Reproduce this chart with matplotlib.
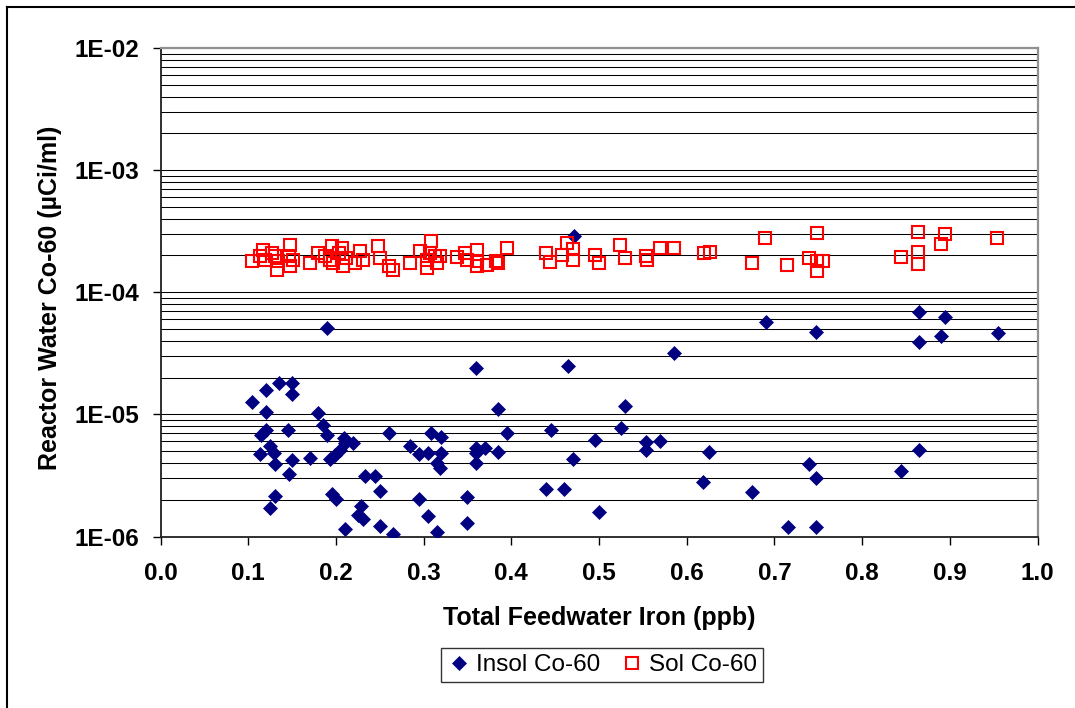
import matplotlib
matplotlib.use("Agg")
import matplotlib.pyplot as plt
from matplotlib.lines import Line2D
from matplotlib.ticker import LogLocator, NullFormatter, FixedLocator

plt.rcParams['font.family'] = ['Liberation Sans', 'DejaVu Sans']

# Insoluble Co-60 (x: total feedwater iron ppb, y: uCi/ml)
insol_x = [0.1895, 0.360, 0.385, 0.1047, 0.120, 0.135, 0.150, 0.150, 0.120, 0.180,
           0.115, 0.120, 0.145, 0.185, 0.1895, 0.114, 0.125, 0.129, 0.130, 0.150,
           0.146, 0.170, 0.2096, 0.220, 0.193, 0.199, 0.205, 0.210, 0.261, 0.284,
           0.295, 0.305, 0.309, 0.320, 0.320, 0.315, 0.319, 0.360, 0.360, 0.360,
           0.370, 0.385, 0.395, 0.130, 0.125, 0.195, 0.200, 0.210, 0.233, 0.245,
           0.250, 0.229, 0.2255, 0.2305, 0.250, 0.265, 0.295, 0.305, 0.315, 0.350,
           0.350, 0.465, 0.585, 0.690, 0.748, 0.530, 0.445, 0.525, 0.4955, 0.554,
           0.554, 0.570, 0.625, 0.470, 0.7395, 0.748, 0.440, 0.460, 0.619, 0.675,
           0.500, 0.715, 0.748, 0.865, 0.865, 0.8945, 0.890, 0.9546, 0.865, 0.844,
           0.472]
insol_y = [5.09e-5, 2.39e-5, 1.10e-5, 1.27e-5, 1.59e-5, 1.82e-5, 1.80e-5, 1.47e-5, 1.04e-5, 1.02e-5,
           6.8e-6, 7.5e-6, 7.46e-6, 8.2e-6, 6.8e-6, 4.72e-6, 5.52e-6, 4.8e-6, 3.91e-6, 4.24e-6,
           3.23e-6, 4.38e-6, 6.38e-6, 5.88e-6, 4.3e-6, 4.66e-6, 5.12e-6, 5.8e-6, 7.0e-6, 5.52e-6,
           4.72e-6, 4.8e-6, 7.0e-6, 6.58e-6, 4.8e-6, 3.98e-6, 3.66e-6, 5.28e-6, 4.8e-6, 4.03e-6,
           5.28e-6, 4.9e-6, 7.0e-6, 2.15e-6, 1.70e-6, 2.23e-6, 2.03e-6, 1.15e-6, 3.13e-6, 3.1e-6,
           2.36e-6, 1.78e-6, 1.5e-6, 1.38e-6, 1.22e-6, 1.05e-6, 2.03e-6, 1.48e-6, 1.08e-6, 2.12e-6,
           1.3e-6, 2.5e-5, 3.17e-5, 5.7e-5, 4.69e-5, 1.17e-5, 7.46e-6, 7.7e-6, 6.18e-6, 5.92e-6,
           5.12e-6, 6.0e-6, 4.95e-6, 4.32e-6, 3.93e-6, 3.03e-6, 2.45e-6, 2.45e-6, 2.78e-6, 2.33e-6,
           1.6e-6, 1.2e-6, 1.2e-6, 6.83e-5, 3.91e-5, 6.27e-5, 4.35e-5, 4.68e-5, 5.12e-6, 3.46e-6,
           2.87e-4]

# Soluble Co-60
sol_x = [0.104, 0.1135, 0.117, 0.119, 0.127, 0.1305, 0.1325, 0.134, 0.148, 0.146,
         0.148, 0.151, 0.170, 0.180, 0.1876, 0.193, 0.195, 0.197, 0.203, 0.2066,
         0.2085, 0.212, 0.222, 0.2275, 0.231, 0.248, 0.250, 0.260, 0.2655, 0.2845,
         0.296, 0.3035, 0.309, 0.307, 0.313, 0.315, 0.319, 0.3035,
         0.338, 0.347, 0.349, 0.3605, 0.3605, 0.3605, 0.372, 0.383, 0.385, 0.395,
         0.440, 0.444, 0.4575, 0.463, 0.470, 0.4707, 0.4955, 0.500, 0.5245, 0.5297,
         0.554, 0.555, 0.5696, 0.585, 0.620, 0.626,
         0.689, 0.674, 0.714, 0.749, 0.7395, 0.749, 0.749, 0.755, 0.844, 0.864,
         0.864, 0.864, 0.8896, 0.8945, 0.954]
sol_y = [1.79e-4, 1.97e-4, 2.23e-4, 1.85e-4, 2.10e-4, 1.97e-4, 1.53e-4, 1.79e-4, 2.45e-4, 1.97e-4,
         1.63e-4, 1.85e-4, 1.75e-4, 2.10e-4, 1.97e-4, 1.85e-4, 2.37e-4, 1.73e-4, 2.10e-4, 2.30e-4,
         1.63e-4, 1.91e-4, 1.73e-4, 2.16e-4, 1.85e-4, 2.37e-4, 1.91e-4, 1.63e-4, 1.53e-4, 1.73e-4,
         2.16e-4, 1.85e-4, 2.62e-4, 2.10e-4, 1.97e-4, 1.73e-4, 1.97e-4, 1.58e-4,
         1.93e-4, 2.10e-4, 1.85e-4, 2.23e-4, 1.79e-4, 1.63e-4, 1.68e-4, 1.79e-4, 1.73e-4, 2.30e-4,
         2.10e-4, 1.77e-4, 2.03e-4, 2.53e-4, 2.26e-4, 1.85e-4, 2.03e-4, 1.73e-4, 2.45e-4, 1.91e-4,
         1.97e-4, 1.85e-4, 2.30e-4, 2.30e-4, 2.10e-4, 2.14e-4,
         2.78e-4, 1.73e-4, 1.68e-4, 3.06e-4, 1.91e-4, 1.48e-4, 1.79e-4, 1.79e-4, 1.93e-4, 3.11e-4,
         2.14e-4, 1.70e-4, 2.48e-4, 3.0e-4, 2.78e-4]

x_ticks = [0.0, 0.1, 0.2, 0.3, 0.4, 0.5, 0.6, 0.7, 0.8, 0.9, 1.0]
y_ticks = [1e-6, 1e-5, 1e-4, 1e-3, 1e-2]
y_tick_labels = ['1E-06', '1E-05', '1E-04', '1E-03', '1E-02']

W, H = 1075, 708
fig = plt.figure(figsize=(W / 100, H / 100), dpi=100)
ax = fig.add_axes([160.5 / W, 1 - 536.5 / H, 877 / W, 488.5 / H])

ax.set_yscale('log')
ax.set_xlim(0.0, 1.0)
ax.set_ylim(1e-6, 1e-2)

# gridlines at all decades and minor positions
ax.yaxis.set_major_locator(FixedLocator(y_ticks))
ax.yaxis.set_minor_locator(LogLocator(base=10, subs=range(2, 10)))
ax.yaxis.set_minor_formatter(NullFormatter())
ax.set_yticklabels(y_tick_labels)
ax.grid(True, which='both', axis='y', color='black', linewidth=0.75)
ax.set_axisbelow(True)

ax.set_xticks(x_ticks)
ax.set_xticklabels([f'{v:.1f}' for v in x_ticks])

ax.plot(insol_x, insol_y, linestyle='none', marker='D', markersize=7.6,
        markerfacecolor='#000080', markeredgecolor='#000080', markeredgewidth=0.5,
        label='Insol Co-60', zorder=3)
ax.plot(sol_x, sol_y, linestyle='none', marker='s', markersize=9,
        markerfacecolor='none', markeredgecolor='#ff0000', markeredgewidth=1.5,
        label='Sol Co-60', zorder=4)

ax.tick_params(axis='x', which='major', direction='out', length=6, width=1,
               pad=12, labelsize=17.5)
ax.tick_params(axis='y', which='major', direction='out', length=6, width=1,
               pad=9, labelsize=17.5)
ax.tick_params(axis='y', which='minor', length=0)
for lab in ax.get_xticklabels() + ax.get_yticklabels():
    lab.set_fontweight('bold')

for s in ['left', 'bottom']:
    ax.spines[s].set_color('#202020')
    ax.spines[s].set_linewidth(1.3)
for s in ['top', 'right']:
    ax.spines[s].set_color('#909090')
    ax.spines[s].set_linewidth(1.6)

fig.text(599 / W, 1 - 618 / H, 'Total Feedwater Iron (ppb)', ha='center', va='center',
         fontsize=18, fontweight='bold')
fig.text(50 / W, 1 - 298 / H, 'Reactor Water Co-60 (µCi/ml)', ha='center', va='center',
         rotation=90, fontsize=18, fontweight='bold')

leg = fig.legend(loc='center', bbox_to_anchor=(602 / W, 1 - 665 / H), ncol=2,
                 frameon=True, fancybox=False, fontsize=17.5, handletextpad=0.2,
                 columnspacing=0.8, handlelength=1.0, borderpad=0.25,
                 borderaxespad=0)
leg.get_frame().set_edgecolor('black')
leg.get_frame().set_linewidth(1.0)

# outer chart border (left and top edges visible)
fig.add_artist(Line2D([7 / W, 7 / W], [0, 1 - 7 / H], transform=fig.transFigure,
                      color='black', linewidth=1.5))
fig.add_artist(Line2D([7 / W, 1], [1 - 7 / H, 1 - 7 / H], transform=fig.transFigure,
                      color='black', linewidth=1.5))

fig.savefig('out.png', dpi=100, facecolor='white')
